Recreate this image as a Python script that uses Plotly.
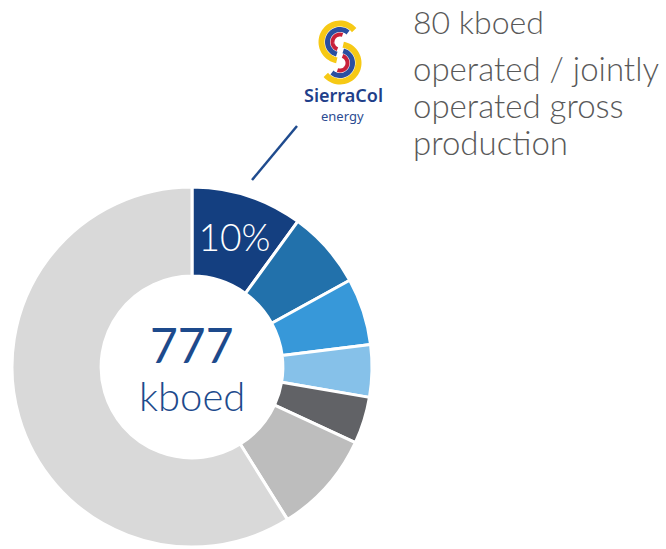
import numpy as np
import plotly.graph_objects as go

# Coordinates below are in window pixels; the page's default body margin is removed by post_script
OFF = 0
W, H = 666, 549

# ---- data ----
segments = ["SierraCol", "Asset 2", "Asset 3", "Asset 4", "Asset 5", "Asset 6", "Other"]
shares = [10.0, 7.0, 6.0, 4.7, 4.2, 9.2, 58.9]
slice_text = ["10%", "", "", "", "", "", ""]
colors = ["#143f80", "#2271ab", "#3798d9", "#86c1e9", "#616266", "#bdbdbd", "#d9d9d9"]
total_value = "777"
total_unit = "kboed"
side_value = "80 kboed"
side_desc = ["operated / jointly", "operated gross", "production"]

FONT = "Lato"

def px(x):
    return (x - OFF) / W

def py(y):
    return 1 - (y - OFF) / H

fig = go.Figure()
fig.add_trace(go.Pie(
    labels=segments, values=shares, text=slice_text, textinfo="text",
    sort=False, direction="clockwise", rotation=0, hole=0.505,
    marker=dict(colors=colors, line=dict(color="white", width=3)),
    textposition="inside", insidetextorientation="horizontal",
    textfont=dict(family=FONT, size=38, color="white", weight=300),
    domain=dict(x=[px(12), px(372)], y=[py(547), py(187)]),
    showlegend=False, hoverinfo="label+percent",
))

ann = []
ann.append(dict(x=px(192), y=py(344), text=total_value, showarrow=False, xref="paper", yref="paper",
                font=dict(family=FONT, size=48, color="#1d4a8c", weight=400), xanchor="center", yanchor="middle"))
ann.append(dict(x=px(192), y=py(396), text=total_unit, showarrow=False, xref="paper", yref="paper",
                font=dict(family=FONT, size=40, color="#1d4a8c", weight=300), xanchor="center", yanchor="middle"))
ann.append(dict(x=px(412), y=py(22), text=side_value, showarrow=False, xref="paper", yref="paper", borderpad=0,
                font=dict(family=FONT, size=32, color="#595959", weight=300), xanchor="left", yanchor="middle"))
for i, line in enumerate(side_desc):
    ann.append(dict(x=px(412), y=py(68 + 37 * i), text=line, showarrow=False, xref="paper", yref="paper",
                    borderpad=0,
                    font=dict(family=FONT, size=33, color="#595959", weight=300), xanchor="left", yanchor="middle"))
# logo text
ann.append(dict(x=px(343), y=py(95), text="SierraCol", showarrow=False, xref="paper", yref="paper", borderpad=0,
                font=dict(family="Noto Sans", size=18, color="#1f3f8a", weight=600), xanchor="center", yanchor="middle"))
ann.append(dict(x=px(342), y=py(116), text="energy", showarrow=False, xref="paper", yref="paper", borderpad=0,
                font=dict(family="Noto Sans", size=13, color="#2c4c92", weight=400), xanchor="center", yanchor="middle"))

shapes = []
# connector line
shapes.append(dict(type="line", xref="paper", yref="paper", x0=px(252), y0=py(180), x1=px(297), y1=py(126),
                   line=dict(color="#1f4b8e", width=2.5)))

def arc_path(cx, cy, r, a0, a1, n=40):
    t = np.radians(np.linspace(a0, a1, n))
    xs = cx + r * np.cos(t)
    ys = cy - r * np.sin(t)
    pts = [f"{px(x):.5f},{py(y):.5f}" for x, y in zip(xs, ys)]
    return "M " + " L ".join(pts)

# logo symbol: two stacked lobes with concentric coloured strokes
for (cx, cy, a0, a1) in [(340, 42, 40, 260), (340, 63, 220, 440)]:
    shapes.append(dict(type="path", xref="paper", yref="paper", path=arc_path(cx, cy, 18.5, a0, a1),
                       line=dict(color="#f6c915", width=6)))
    shapes.append(dict(type="path", xref="paper", yref="paper", path=arc_path(cx, cy, 12.5, a0 + 10, a1 - 5),
                       line=dict(color="#2a4fa0", width=5)))
    shapes.append(dict(type="path", xref="paper", yref="paper", path=arc_path(cx, cy, 7.5, a0 + 30, a1 - 10),
                       line=dict(color="#c8203a", width=4)))

fig.update_layout(
    width=W, height=H, margin=dict(l=0, r=0, t=0, b=0),
    paper_bgcolor="white", plot_bgcolor="white",
    annotations=ann, shapes=shapes,
)
fig.write_html("out.html", config={"displayModeBar": False},
               post_script="document.body.style.margin='0';")
